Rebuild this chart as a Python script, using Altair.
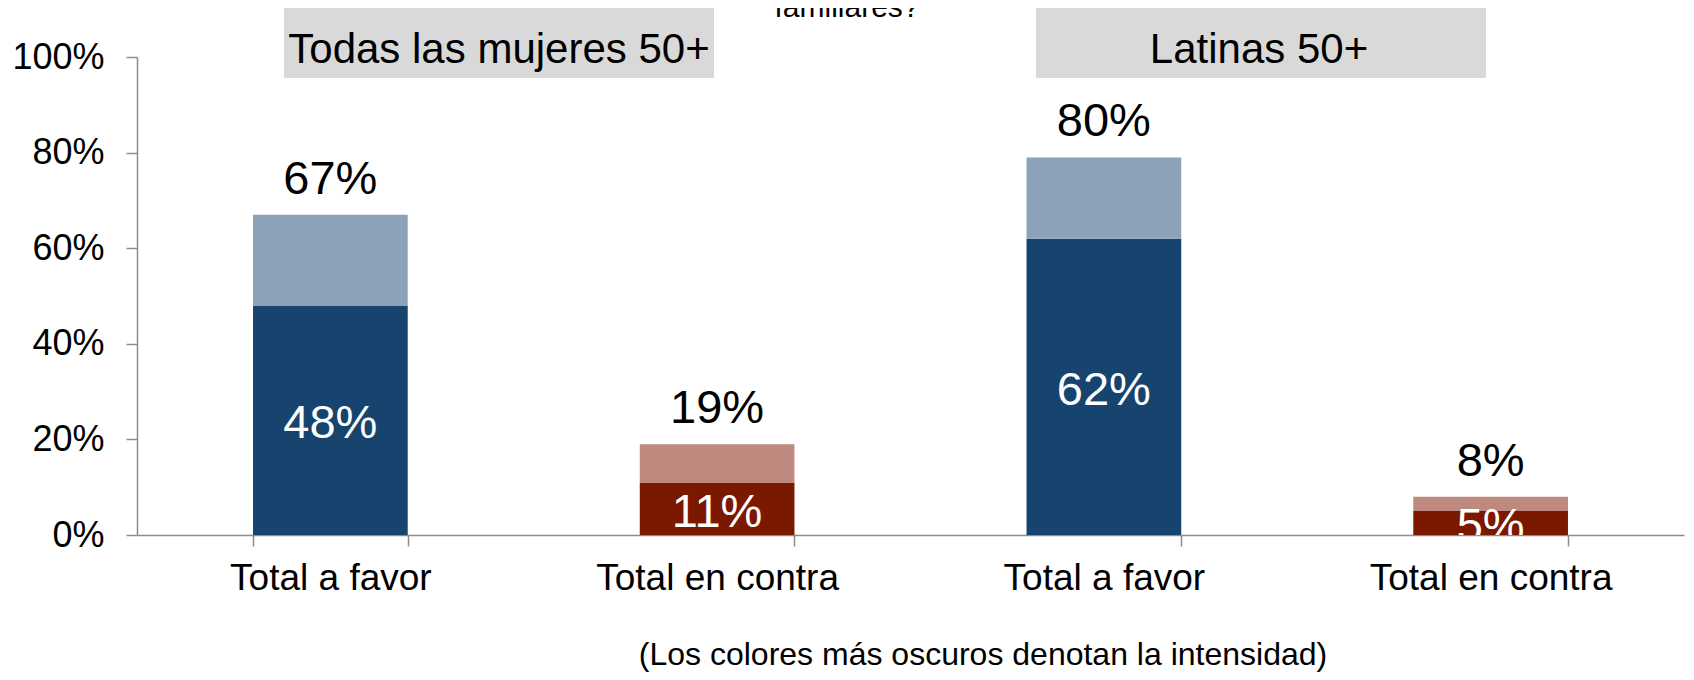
import altair as alt
import pandas as pd

# ---- data ----
groups = ["Todas las mujeres 50+", "Todas las mujeres 50+", "Latinas 50+", "Latinas 50+"]
categories = ["Total a favor", "Total en contra", "Total a favor", "Total en contra"]
sides = ["favor", "contra", "favor", "contra"]
strong_values = [48, 11, 62, 5]      # darker segment (intensity)
total_values = [67, 19, 79, 8]       # full bar height
total_labels = ["67%", "19%", "80%", "8%"]
strong_labels = ["48%", "11%", "62%", "5%"]
header_texts = ["Todas las mujeres 50+", "Latinas 50+"]
title_tail = "familiares?"
footnote = "(Los colores más oscuros denotan la intensidad)"

series_domain = ["favor_strong", "favor_light", "contra_strong", "contra_light"]
series_colors = ["#17446F", "#8BA2B9", "#7B1800", "#BE8A80"]

keys = [f"{g}|{c}" for g, c in zip(groups, categories)]

rows = []
for k, s, st, tot in zip(keys, sides, strong_values, total_values):
    rows.append({"key": k, "serie": s + "_strong", "y0": 0.0, "y1": st / 100})
    rows.append({"key": k, "serie": s + "_light", "y0": st / 100, "y1": tot / 100})
bars_df = pd.DataFrame(rows)

labels_df = pd.DataFrame({
    "key": keys,
    "total": [t / 100 for t in total_values],
    "mid": [s / 200 for s in strong_values],
    "total_label": total_labels,
    "strong_label": strong_labels,
})

FONT = "Liberation Sans"
AXIS_GRAY = "#8C8C8C"

x_enc = alt.X(
    "key:N",
    sort=keys,
    scale=alt.Scale(paddingInner=0.6, paddingOuter=0.3),
    axis=alt.Axis(
        title=None,
        labelExpr="split(datum.label, '|')[1]",
        labelAngle=0,
        labelFontSize=37,
        labelPadding=14,
        labelLimit=0,
        tickSize=11,
        tickBand="extent",
        labelBaseline="top",
    ),
)
y_scale = alt.Scale(domain=[0, 1], nice=False)
y_axis = alt.Axis(
    title=None,
    format=".0%",
    values=[0, 0.2, 0.4, 0.6, 0.8, 1.0],
    labelFontSize=36,
    labelPadding=22,
    labelLimit=0,
    tickSize=11,
    grid=False,
)

bars = alt.Chart(bars_df).mark_bar().encode(
    x=x_enc,
    y=alt.Y("y0:Q", scale=y_scale, axis=y_axis),
    y2="y1:Q",
    color=alt.Color("serie:N", scale=alt.Scale(domain=series_domain, range=series_colors), legend=None),
)

top_text = alt.Chart(labels_df).mark_text(
    fontSize=47, dy=-21, baseline="alphabetic", align="center", color="black", font=FONT
).encode(
    x=x_enc,
    y=alt.Y("total:Q", scale=y_scale, axis=y_axis),
    text="total_label:N",
)

inner_text = alt.Chart(labels_df).mark_text(
    fontSize=47, dy=18, baseline="alphabetic", align="center", color="white", font=FONT, clip=True
).encode(
    x=x_enc,
    y=alt.Y("mid:Q", scale=y_scale, axis=y_axis),
    text="strong_label:N",
)

# ---- annotations (header boxes, cut title, footnote) ----
header_boxes = [(147, 577, 362), (899, 1349, 1122)]
annots = []
for txt, (bx0, bx1, cx) in zip(header_texts, header_boxes):
    d = pd.DataFrame({"text": [txt]})
    annots.append(
        alt.Chart(d).mark_rect(color="#D9D9D9").encode(
            x=alt.value(bx0), x2=alt.value(bx1), y=alt.value(-52), y2=alt.value(21)
        )
    )
    annots.append(
        alt.Chart(d).mark_text(fontSize=42, align="center", baseline="alphabetic", color="black", font=FONT).encode(
            x=alt.value(cx), y=alt.value(6), text="text:N"
        )
    )

annots.append(
    alt.Chart(pd.DataFrame({"text": [title_tail]})).mark_text(
        fontSize=30, align="center", baseline="alphabetic", color="black", font=FONT
    ).encode(x=alt.value(710), y=alt.value(-40), text="text:N")
)
annots.append(
    alt.Chart(pd.DataFrame({"text": [footnote]})).mark_text(
        fontSize=32, align="center", baseline="alphabetic", color="black", font=FONT
    ).encode(x=alt.value(846), y=alt.value(608), text="text:N")
)

chart = alt.layer(bars, top_text, inner_text, *annots).properties(
    width=1547,
    height=478,
    autosize=alt.AutoSizeParams(type="none"),
    padding={"left": 129, "top": 49, "right": 2, "bottom": 137},
    background="white",
).configure_axis(
    domainColor=AXIS_GRAY,
    tickColor=AXIS_GRAY,
    domainWidth=1.5,
    tickWidth=1.5,
    labelColor="black",
    labelFont=FONT,
).configure_view(stroke=None).configure_text(font=FONT)

chart.save("out.html", embed_options={"renderer": "svg", "actions": False})
